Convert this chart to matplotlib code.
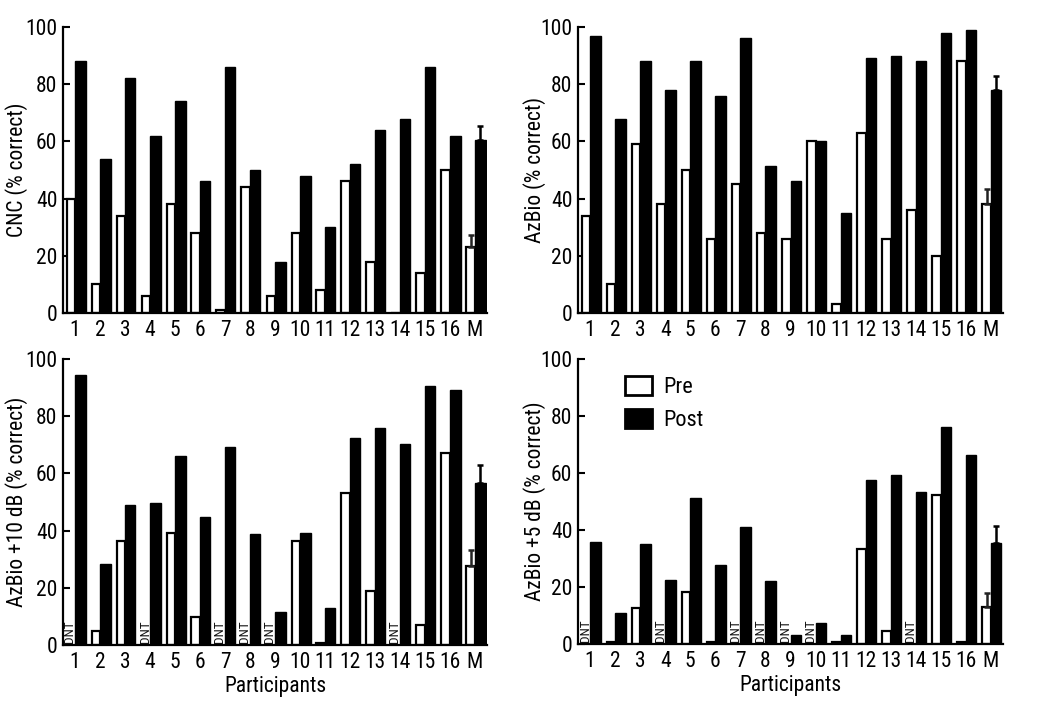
import matplotlib
matplotlib.use("Agg")
import matplotlib.pyplot as plt
from matplotlib import font_manager
from matplotlib.patches import Patch
import numpy as np

nan = np.nan
categories = ['1', '2', '3', '4', '5', '6', '7', '8', '9', '10', '11', '12', '13', '14', '15', '16', 'M']

cnc_pre = [40, 10, 34, 6, 38, 28, 1, 44, 6, 28, 8, 46, 18, 0, 14, 50, 23]
cnc_post = [88, 54, 82, 62, 74, 46, 86, 50, 18, 48, 30, 52, 64, 68, 86, 62, 60.5]
cnc_err = [4.3, 5.0]

azbio_pre = [34, 10, 59, 38, 50, 26, 45, 28, 26, 60, 3, 63, 26, 36, 20, 88, 38]
azbio_post = [97, 68, 88, 78, 88, 76, 96, 51.5, 46, 60, 35, 89, 90, 88, 98, 99, 78]
azbio_err = [5.5, 5.0]

az10_pre = [nan, 5, 36.3, nan, 39.3, 9.9, nan, nan, nan, 36.4, 0.7, 53.3, 19, nan, 7, 67, 27.5]
az10_post = [94.5, 28.2, 48.9, 49.5, 66, 44.6, 69.2, 38.7, 11.7, 39, 13.1, 72.4, 75.9, 70.4, 90.4, 89.1, 56.6]
az10_err = [5.6, 6.4]

az5_pre = [nan, 0.7, 12.8, nan, 18.2, 0.7, nan, nan, nan, nan, 0.7, 33.3, 4.7, nan, 52.2, 0.7, 13.1]
az5_post = [35.8, 10.8, 35.1, 22.5, 51.2, 27.8, 41.1, 22.2, 3, 7.5, 3, 57.4, 59.2, 53.3, 76.2, 66.3, 35.4]
az5_err = [4.9, 5.9]

ylabels = ['CNC (% correct)', 'AzBio (% correct)', 'AzBio +10 dB (% correct)', 'AzBio +5 dB (% correct)']
legend_labels = ['Pre', 'Post']
xlabel = 'Participants'
dnt_text = 'DNT'

# font choice
names = {f.name for f in font_manager.fontManager.ttflist}
family = None
for cand in ['Roboto Condensed', 'Liberation Sans Narrow', 'DejaVu Sans Condensed', 'Open Sans Condensed']:
    if cand in names:
        family = cand
        break
if family is None:
    family = 'Liberation Sans'
plt.rcParams['font.family'] = [family, 'DejaVu Sans']

fig = plt.figure(figsize=(10.5, 7.06), dpi=100)
W, H = 1050, 706

def axes_px(x0, x1, ytop, ybot):
    return fig.add_axes([x0 / W, 1 - ybot / H, (x1 - x0) / W, (ybot - ytop) / H])

panels = [
    (axes_px(63, 487, 27, 313), cnc_pre, cnc_post, cnc_err, ylabels[0], False, 17),
    (axes_px(578, 1003, 27, 313), azbio_pre, azbio_post, azbio_err, ylabels[1], False, 535),
    (axes_px(63, 487, 359, 645), az10_pre, az10_post, az10_err, ylabels[2], True, 17),
    (axes_px(578, 1003, 359, 644), az5_pre, az5_post, az5_err, ylabels[3], True, 535),
]

x = np.arange(1, len(categories) + 1)
pre_w = 0.34
post_w = 0.42
FS = 15.5

for k, (ax, pre, post, err, ylab, bottom, ylab_px) in enumerate(panels):
    pre = np.array(pre, dtype=float)
    post = np.array(post, dtype=float)
    ok = ~np.isnan(pre)
    ax.bar(x[ok] - pre_w, pre[ok], width=pre_w, align='edge', color='white',
           edgecolor='black', linewidth=1.6, zorder=2)
    ax.bar(x, post, width=post_w, align='edge', color='black',
           edgecolor='black', linewidth=1.0, zorder=2)
    # error bars on mean
    ax.errorbar(x[-1] - pre_w / 2, pre[-1], yerr=[[0], [err[0]]], fmt='none',
                ecolor='#222222', elinewidth=1.8, capsize=2.5, capthick=1.8, zorder=3)
    ax.errorbar(x[-1] + post_w / 2, post[-1], yerr=[[0], [err[1]]], fmt='none',
                ecolor='black', elinewidth=1.8, capsize=2.5, capthick=1.8, zorder=3)
    # DNT labels
    for xi in x[~ok]:
        ax.text(xi - pre_w / 2 - 0.03, 0.8, dnt_text, rotation=90, ha='center', va='bottom',
                fontsize=9.5, color='#111111', zorder=4)
    ax.set_xlim(0.52, 17.48)
    ax.set_ylim(0, 100)
    ax.set_yticks([0, 20, 40, 60, 80, 100])
    ax.set_xticks(x)
    ax.set_xticklabels(categories)
    ax.tick_params(axis='y', direction='in', length=5, width=1.5, labelsize=FS, pad=4)
    ax.tick_params(axis='x', length=0, labelsize=FS, pad=5)
    for s in ['top', 'right']:
        ax.spines[s].set_visible(False)
    for s in ['left', 'bottom']:
        ax.spines[s].set_linewidth(1.6)
    ax.set_ylabel(ylab, fontsize=15.5, va='center')
    bb = ax.get_position()
    ax.yaxis.set_label_coords((ylab_px / W - bb.x0) / bb.width, 0.5)
    if bottom:
        ax.set_xlabel(xlabel, fontsize=15.5, labelpad=2)

ax_leg = panels[3][0]
handles = [Patch(facecolor='white', edgecolor='black', linewidth=2),
           Patch(facecolor='black', edgecolor='black', linewidth=2)]
ax_leg.legend(handles, legend_labels, loc='upper left', bbox_to_anchor=(0.09, 0.97),
              frameon=False, fontsize=16, handlelength=1.2, handleheight=0.9,
              handletextpad=0.5, labelspacing=0.5, borderaxespad=0)

fig.savefig('out.png', dpi=100)
